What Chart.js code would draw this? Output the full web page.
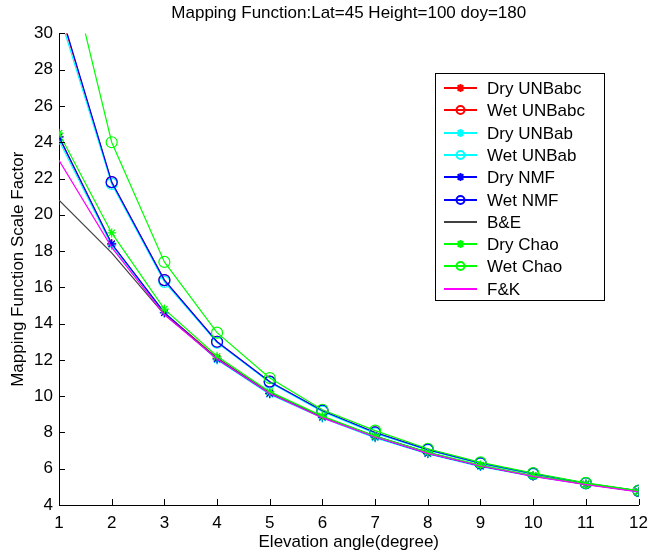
<!DOCTYPE html>
<html>
<head>
<meta charset="utf-8">
<script src="https://cdn.jsdelivr.net/npm/chart.js@4.4.1/dist/chart.umd.min.js"></script>
<style>
  html, body { margin: 0; padding: 0; background: #fff; }
  #wrap { width: 656px; height: 556px; }
</style>
</head>
<body>
<div id="wrap"><canvas id="chart"></canvas></div>
<script>
// elevation angles (degree)
const angles = [1, 2, 3, 4, 5, 6, 7, 8, 9, 10, 11, 12];
const yTicks = [4, 6, 8, 10, 12, 14, 16, 18, 20, 22, 24, 26, 28, 30];

// mapping function values
const dryUNBabc = [24.3, 18.4, 14.6, 12.1, 10.15, 8.85, 7.75, 6.85, 6.15, 5.6, 5.15, 4.75];
const wetUNBabc = [31.4, 21.8, 16.4, 13.0, 10.8, 9.2, 8.0, 7.05, 6.3, 5.72, 5.2, 4.78];
const dryUNBab = [24.1, 18.3, 14.6, 12.0, 10.1, 8.8, 7.7, 6.82, 6.12, 5.58, 5.13, 4.74];
const wetUNBab = [31.1, 21.7, 16.3, 12.95, 10.75, 9.15, 7.95, 7.02, 6.28, 5.7, 5.19, 4.77];
const dryNMF = [24.3, 18.4, 14.6, 12.05, 10.15, 8.85, 7.75, 6.85, 6.15, 5.6, 5.15, 4.75];
const wetNMF = [31.5, 21.8, 16.4, 13.0, 10.8, 9.2, 8.0, 7.05, 6.3, 5.73, 5.2, 4.78];
const bAndE = [20.8, 17.9, 14.5, 12.1, 10.2, 8.85, 7.8, 6.9, 6.15, 5.6, 5.15, 4.75];
const dryChao = [24.5, 19.0, 14.8, 12.2, 10.25, 8.9, 7.8, 6.9, 6.2, 5.62, 5.17, 4.77];
const wetChao = [36.0, 24.0, 17.4, 13.5, 11.0, 9.25, 8.1, 7.1, 6.35, 5.76, 5.22, 4.8];
const fAndK = [23.0, 18.2, 14.5, 12.05, 10.15, 8.8, 7.75, 6.85, 6.15, 5.58, 5.12, 4.72];

const FONT = '"Liberation Sans", Arial, sans-serif';

function series(label, values, color, marker) {
  return {
    label: label,
    data: angles.map((a, i) => ({ x: a, y: values[i] })),
    borderColor: color,
    backgroundColor: color,
    borderWidth: 1.2,
    pointStyle: marker || false,
    pointRadius: marker === 'star' ? 4.5 : (marker ? 5.5 : 0),
    pointBorderColor: color,
    pointBackgroundColor: 'rgba(0,0,0,0)',
    pointBorderWidth: 1.2,
    tension: 0
  };
}

const datasets = [
  series('Dry UNBabc', dryUNBabc, '#ff0000', 'star'),
  series('Wet UNBabc', wetUNBabc, '#ff0000', 'circle'),
  series('Dry UNBab', dryUNBab, '#00ffff', 'star'),
  series('Wet UNBab', wetUNBab, '#00ffff', 'circle'),
  series('Dry NMF', dryNMF, '#0000ff', 'star'),
  series('Wet NMF', wetNMF, '#0000ff', 'circle'),
  series('B&E', bAndE, '#404040', null),
  series('Dry Chao', dryChao, '#00ff00', 'star'),
  series('Wet Chao', wetChao, '#00ff00', 'circle'),
  series('F&K', fAndK, '#ff00ff', null)
];
// matlab draws later lines on top
datasets.forEach((d, i) => { d.order = datasets.length - i; });

// inward tick marks like matlab
const inwardTicks = {
  id: 'inwardTicks',
  afterDraw(chart) {
    const ctx = chart.ctx;
    const xs = chart.scales.x, ys = chart.scales.y;
    const area = chart.chartArea;
    ctx.save();
    ctx.strokeStyle = '#000';
    ctx.lineWidth = 1;
    ctx.beginPath();
    angles.forEach(a => {
      const px = Math.round(xs.getPixelForValue(a)) + 0.5;
      ctx.moveTo(px, area.bottom);
      ctx.lineTo(px, area.bottom - 6);
    });
    yTicks.forEach(t => {
      const py = Math.round(ys.getPixelForValue(t)) + 0.5;
      ctx.moveTo(area.left, py);
      ctx.lineTo(area.left + 6, py);
    });
    ctx.stroke();
    ctx.restore();
  }
};

// legend box drawn inside the plot
const boxLegend = {
  id: 'boxLegend',
  afterDraw(chart) {
    const ctx = chart.ctx;
    const x0 = 435, y0 = 73, w = 169, h = 227;
    const rowH = 22.3;
    ctx.save();
    ctx.fillStyle = '#fff';
    ctx.fillRect(x0, y0, w, h);
    ctx.strokeStyle = '#000';
    ctx.lineWidth = 1;
    ctx.strokeRect(x0 + 0.5, y0 + 0.5, w, h);
    ctx.textBaseline = 'middle';
    chart.data.datasets.forEach((d, i) => {
      const cy = Math.round(y0 + 15 + i * rowH);
      ctx.save();
      ctx.lineWidth = 2;
      ctx.strokeStyle = d.borderColor;
      ctx.beginPath();
      ctx.moveTo(444, cy);
      ctx.lineTo(477, cy);
      ctx.stroke();
      if (d.pointStyle) {
        ctx.fillStyle = 'rgba(0,0,0,0)';
        Chart.helpers.drawPoint(ctx, {
          pointStyle: d.pointStyle, radius: 4, borderWidth: 1.5, rotation: 0
        }, 460.5, cy);
      }
      ctx.restore();
      ctx.fillStyle = '#000';
      ctx.font = '17px ' + FONT;
      ctx.fillText(d.label, 487, cy + 1);
    });
    ctx.restore();
  }
};

new Chart(document.getElementById('chart'), {
  type: 'line',
  data: { datasets: datasets },
  plugins: [inwardTicks, boxLegend],
  options: {
    responsive: true,
    maintainAspectRatio: false,
    animation: false,
    layout: { padding: { left: 0, right: 7, top: 0, bottom: 0 } },
    plugins: {
      legend: { display: false },
      tooltip: { enabled: false },
      title: {
        display: true,
        fullSize: false,
        text: 'Mapping Function:Lat=45 Height=100 doy=180',
        color: '#000',
        font: { family: FONT, size: 17, weight: 'normal' },
        padding: { top: 3, bottom: 10 }
      }
    },
    scales: {
      x: {
        type: 'linear',
        min: 1,
        max: 12,
        afterFit(scale) { scale.height = 51; },
        afterBuildTicks(scale) { scale.ticks = angles.map(v => ({ value: v })); },
        grid: { display: false, drawTicks: false },
        border: { display: true, color: '#000', width: 1 },
        ticks: {
          color: '#000',
          padding: 8,
          maxRotation: 0,
          font: { family: FONT, size: 17 }
        },
        title: {
          display: true,
          text: 'Elevation angle(degree)',
          color: '#000',
          font: { family: FONT, size: 17 },
          padding: { top: 0, bottom: 3 }
        }
      },
      y: {
        type: 'linear',
        min: 4,
        max: 30,
        afterFit(scale) { scale.width = 59; },
        afterBuildTicks(scale) { scale.ticks = yTicks.map(v => ({ value: v })); },
        grid: { display: false, drawTicks: false },
        border: { display: true, color: '#000', width: 1 },
        ticks: {
          color: '#000',
          padding: 6,
          font: { family: FONT, size: 17 }
        },
        title: {
          display: true,
          text: 'Mapping Function Scale Factor',
          color: '#000',
          font: { family: FONT, size: 17 },
          padding: { top: 8, bottom: 0 }
        }
      }
    }
  }
});
</script>
</body>
</html>
